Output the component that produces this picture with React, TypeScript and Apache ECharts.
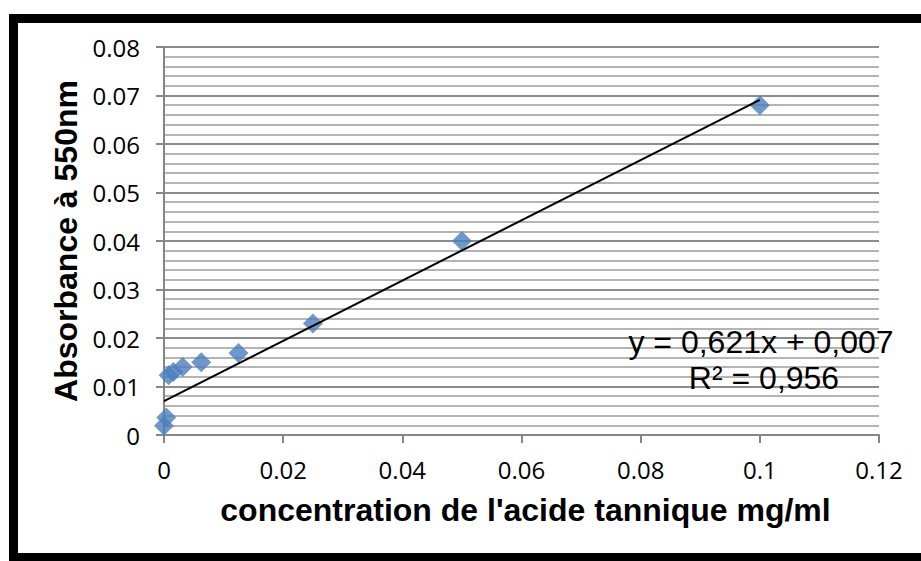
import React, { useEffect, useRef } from "react";
import * as echarts from "echarts";

const concentrations = [0, 0.00039, 0.00078, 0.0015625, 0.003125, 0.00625, 0.0125, 0.025, 0.05, 0.1];
const absorbances = [0.0019, 0.0036, 0.0123, 0.013, 0.014, 0.015, 0.0169, 0.023, 0.04, 0.068];
const trendSlope = 0.621;
const trendIntercept = 0.007;
const trendRange = [0, 0.1];
const equationLines = ["y = 0,621x + 0,007", "R² = 0,956"];
const xTitle = "concentration de l'acide tannique mg/ml";
const yTitle = "Absorbance à 550nm";

export default function App() {
  const ref = useRef<HTMLDivElement>(null);
  useEffect(() => {
    if (!ref.current) return;
    const chart = echarts.init(ref.current, undefined, { renderer: "svg" });
    const trendData = trendRange.map((x) => [x, trendSlope * x + trendIntercept]);
    const fmt = (v: number) => String(+v.toFixed(3));
    chart.setOption({
      animation: false,
      backgroundColor: "#ffffff",
      grid: { left: 164, right: 42, top: 47, bottom: 126, containLabel: false },
      xAxis: {
        type: "value",
        min: 0,
        max: 0.12,
        interval: 0.02,
        name: xTitle,
        nameLocation: "middle",
        nameGap: 59,
        nameTextStyle: { fontFamily: "Liberation Sans", fontWeight: "bold", fontSize: 32, color: "#000", padding: [0, 0, 0, 8] },
        axisLine: { show: true, lineStyle: { color: "#868686", width: 2 } },
        axisTick: { show: true, length: 8, inside: false, lineStyle: { color: "#868686", width: 2 } },
        axisLabel: { fontFamily: "Open Sans", fontSize: 24, color: "#000", margin: 22, formatter: fmt },
        splitLine: { show: false },
      },
      yAxis: {
        type: "value",
        min: 0,
        max: 0.08,
        interval: 0.01,
        name: yTitle,
        nameLocation: "middle",
        nameGap: 80,
        nameTextStyle: { fontFamily: "Liberation Sans", fontWeight: "bold", fontSize: 32, color: "#000" },
        axisLine: { show: true, lineStyle: { color: "#868686", width: 2 } },
        axisTick: { show: true, length: 8, inside: false, lineStyle: { color: "#868686", width: 2 } },
        axisLabel: { fontFamily: "Open Sans", fontSize: 24, color: "#000", margin: 24, formatter: fmt },
        splitLine: { show: true, lineStyle: { color: "#8c8c8c", width: 2 } },
        minorTick: { show: false, splitNumber: 5 },
        minorSplitLine: { show: true, lineStyle: { color: "#b4b4b4", width: 2 } },
      },
      series: [
        {
          type: "scatter",
          data: concentrations.map((x, i) => [x, absorbances[i]]),
          symbol: "diamond",
          symbolSize: 20,
          itemStyle: { color: "#4A7EBB" },
          z: 2,
        },
        {
          type: "line",
          data: trendData,
          symbol: "none",
          lineStyle: { color: "#000", width: 2 },
          z: 3,
        },
      ],
      graphic: [
        {
          type: "rect",
          shape: { x: 13.5, y: 18.5, width: 1000, height: 539 },
          style: { fill: "none", stroke: "#000", lineWidth: 9 },
          z: 10,
        },
        {
          type: "text",
          x: 761,
          y: 342,
          style: { text: equationLines[0], fontFamily: "Liberation Sans", fontSize: 32, fill: "#000", textAlign: "center", textVerticalAlign: "middle" },
          z: 10,
        },
        {
          type: "text",
          x: 764,
          y: 378,
          style: { text: equationLines[1], fontFamily: "Liberation Sans", fontSize: 32, fill: "#000", textAlign: "center", textVerticalAlign: "middle" },
          z: 10,
        },
      ],
    });
    return () => chart.dispose();
  }, []);
  return <div ref={ref} style={{ position: "fixed", left: 0, top: 0, width: 921, height: 561 }} />;
}
